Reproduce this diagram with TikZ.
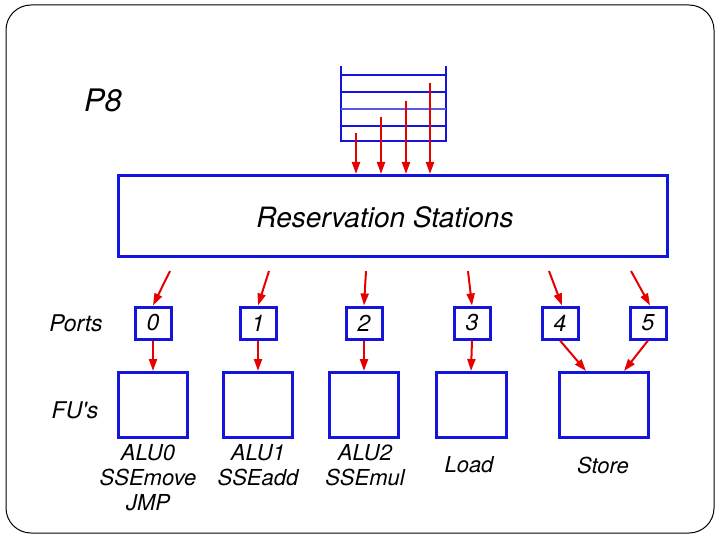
\documentclass[tikz,border=0pt]{standalone}
\usepackage{fontspec}
\setmainfont{TeX Gyre Heros}
\usetikzlibrary{arrows.meta}
\definecolor{bl}{RGB}{20,20,220}
\definecolor{rd}{RGB}{230,0,0}
\begin{document}
\begin{tikzpicture}[x=1pt,y=-1pt,
  box/.style={draw=bl,line width=3pt,fill=white},
  port/.style={draw=bl,line width=3pt,fill=white,minimum width=36pt,minimum height=32pt,inner sep=0pt,font=\fontsize{23}{24}\selectfont\itshape},
  fu/.style={draw=bl,line width=3pt,minimum height=65pt,inner sep=0pt},
  lbl/.style={font=\fontsize{22}{25}\selectfont\itshape,align=center,inner sep=0pt},
  ra/.style={draw=rd,line width=2pt,-{Triangle[length=12pt,width=8pt]}},
  ql/.style={draw=bl,line width=1.8pt}]
\useasboundingbox (0,0) rectangle (720,540);
\draw[black,line width=1pt,rounded corners=25pt] (6,5) rectangle (714,533);
\node[font=\fontsize{31}{34}\selectfont\itshape,inner sep=0pt] (p8) at (103,100) {P8};
% queue
\coordinate (qtl) at (341,66);
\coordinate (qtr) at (446,66);
\coordinate (qbl) at (341,141);
\coordinate (qbr) at (446,141);
\draw[ql] (qtl) -- (qbl) -- (qbr) -- (qtr);
\draw[ql] (341,75) -- (446,75);
\draw[ql] (341,92) -- (446,92);
\draw[draw=bl!70,line width=1.2pt] (341,109) -- (446,109);
\draw[ql] (341,126) -- (446,126);
% reservation stations
\node[box,minimum width=549pt,minimum height=81pt,inner sep=0pt] (rs) at (393,216) {};
\node[font=\fontsize{28}{30}\selectfont\itshape,inner sep=0pt] (rst) at (385,217) {Reservation Stations};
\coordinate (q1) at (356,133);
\coordinate (q2) at (381,117);
\coordinate (q3) at (406,101);
\coordinate (q4) at (430,83);
\foreach \q in {q1,q2,q3,q4}{
  \draw[ra] (\q) -- (\q |- rs.north);
}
% labels
\node[lbl,font=\fontsize{23}{25}\selectfont\itshape] (ports) at (76,323) {Ports};
\node[lbl,font=\fontsize{23}{25}\selectfont\itshape] (fus) at (75,410) {FU\textquotesingle s};
% ports
\node[port] (p0) at (153,323) {0};
\node[port] (p1) at (258,323) {1};
\node[port] (p2) at (364,323) {2};
\node[port] (p3) at (472,323) {3};
\node[port] (p4) at (560,323) {4};
\node[port] (p5) at (648,323) {5};
% arrows RS -> ports
\coordinate (s0) at (170,271);
\coordinate (s1) at (269,271);
\coordinate (s2) at (366,271);
\coordinate (s3) at (468,271);
\coordinate (s4) at (549,271);
\coordinate (s5) at (631,271);
\draw[ra] (s0) -- (p0.north);
\draw[ra] (s1) -- (p1.north);
\draw[ra] (s2) -- (p2.north);
\draw[ra] (s3) -- (p3.north);
\draw[ra] (s4) -- ([xshift=2pt]p4.north);
\draw[ra] (s5) -- ([xshift=2pt]p5.north);
% FUs
\node[fu,minimum width=69pt] (f0) at (153,405) {};
\node[fu,minimum width=69pt] (f1) at (258,405) {};
\node[fu,minimum width=69pt] (f2) at (364,405) {};
\node[fu,minimum width=70pt] (f3) at (471,405) {};
\node[fu,minimum width=89pt] (f4) at (604,405) {};
\draw[ra] (p0.south) -- (f0.north);
\draw[ra] (p1.south) -- (f1.north);
\draw[ra] (p2.south) -- (f2.north);
\draw[ra] (p3.south) -- (f3.north);
\draw[ra] (p4.south) -- ([xshift=-18pt]f4.north);
\draw[ra] (p5.south) -- ([xshift=20pt]f4.north);
% FU labels
\node[lbl,anchor=north] (l0) at (148,444) {ALU0\\SSEmove\\JMP};
\node[lbl,anchor=north] (l1) at (258,444) {ALU1\\SSEadd};
\node[lbl,anchor=north] (l2) at (365,444) {ALU2\\SSEmul};
\node[lbl] (l3) at (469,465) {Load};
\node[lbl] (l4) at (603,465) {Store};
\end{tikzpicture}
\end{document}
